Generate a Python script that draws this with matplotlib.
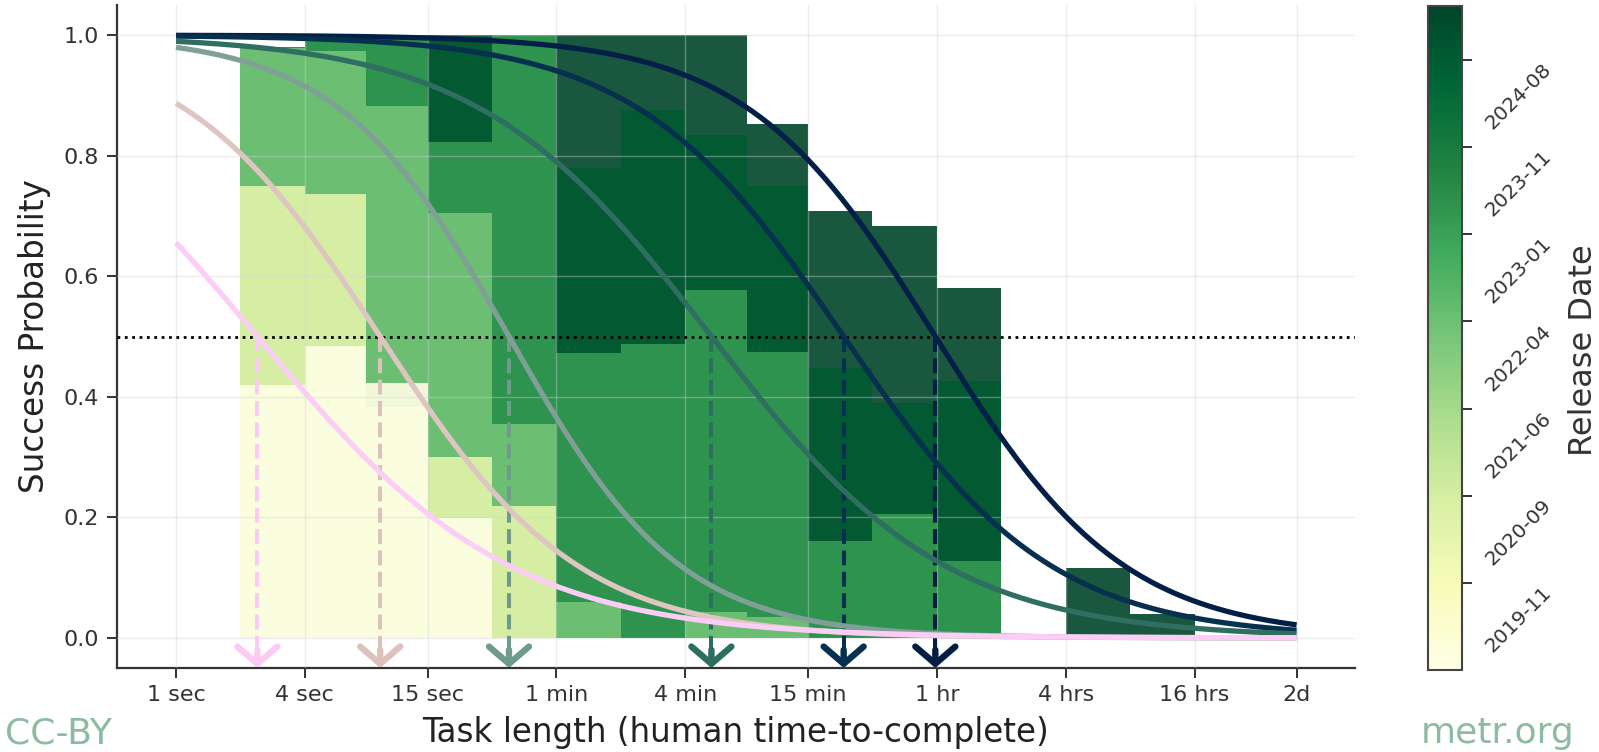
import numpy as np
import matplotlib
matplotlib.use("Agg")
import matplotlib.pyplot as plt
from matplotlib.colors import Normalize
from matplotlib.cm import ScalarMappable
from datetime import datetime, timezone

plt.rcParams['font.family'] = ['DejaVu Sans']

# ---------------- data ----------------
# task-length bin edges (minutes)
bin_edges_min = [2/60, 4/60, 7.746/60, 15/60, 30/60, 1, 2, 4, 7.746, 15, 30, 60, 120, 240, 480, 960]

model_names = ["GPT-2", "davinci-002", "gpt-3.5-turbo-instruct", "GPT-4", "o1-preview", "Claude 3.7 Sonnet"]
release_dates = ["2019-02-14", "2020-05-28", "2022-03-15", "2023-03-14", "2024-09-12", "2025-02-24"]

# success rate per bin (15 bins) for each model
succ_gpt2     = [0.42, 0.485, 0.423, 0.199, 0, 0, 0, 0, 0, 0, 0, 0, 0, 0, 0]
succ_davinci  = [0.75, 0.736, 0.383, 0.30, 0.219, 0, 0, 0, 0, 0, 0, 0, 0, 0, 0]
succ_gpt35    = [0.978, 0.973, 0.882, 0.705, 0.355, 0.06, 0, 0.043, 0.035, 0, 0, 0, 0, 0, 0]
succ_gpt4     = [0.98, 1.0, 1.0, 0.822, 1.0, 0.472, 0.487, 0.577, 0.474, 0.16, 0.206, 0.128, 0, 0, 0]
succ_o1p      = [0.98, 1.0, 1.0, 1.0, 1.0, 0.779, 0.876, 0.835, 0.75, 0.448, 0.39, 0.426, 0, 0, 0]
succ_claude37 = [0.98, 1.0, 1.0, 1.0, 1.0, 1.0, 1.0, 1.0, 0.852, 0.708, 0.684, 0.58, 0, 0.116, 0.04]

# logistic fit: 50% time horizon (minutes) and slope (per doubling)
horizon_min = [0.04, 0.15, 0.6, 5.3, 22, 59]
slope = [0.51, 0.65, 0.75, 0.55, 0.62, 0.68]

curve_colors = ["#fccdf6", "#dec5c1", "#7f9f97", "#2f6e61", "#07304f", "#021f47"]
arrow_colors = ["#fbcbf4", "#dcc1bc", "#6f9c8a", "#2c6e5f", "#06304f", "#031d43"]

xtick_vals = [1/60, 4/60, 15/60, 1, 4, 15, 60, 240, 960, 2880]
xtick_labels = ["1 sec", "4 sec", "15 sec", "1 min", "4 min", "15 min", "1 hr", "4 hrs", "16 hrs", "2d"]
ytick_vals = [0.0, 0.2, 0.4, 0.6, 0.8, 1.0]

cbar_ticks = [1.575e9, 1.600e9, 1.625e9, 1.650e9, 1.675e9, 1.700e9, 1.725e9]

curve_t_min = [1/60, 2880]

# ---------------- figure ----------------
W, H = 1599, 752
fig = plt.figure(figsize=(W/100, H/100), dpi=100)
ax = fig.add_axes([117/W, 1-668/H, (1355-117)/W, (668-5)/H])

def ts(s):
    return datetime.strptime(s, "%Y-%m-%d").replace(tzinfo=timezone.utc).timestamp()

rel_ts = [ts(d) for d in release_dates]
norm = Normalize(vmin=min(rel_ts), vmax=max(rel_ts))
cmap = plt.get_cmap("YlGn")

succ_all = [succ_gpt2, succ_davinci, succ_gpt35, succ_gpt4, succ_o1p, succ_claude37]
edges = np.array(bin_edges_min)
lefts = edges[:-1]
widths = edges[1:] - edges[:-1]

# newest drawn first so that older models sit on top
for k in range(len(model_names) - 1, -1, -1):
    ax.bar(lefts, succ_all[k], width=widths, align="edge",
           color=cmap(norm(rel_ts[k])), alpha=0.9, linewidth=0, zorder=1)

ax.set_xscale("log", base=2)
ax.set_xlim(0.00883, 5400)
ax.set_ylim(-0.05, 1.05)

ax.set_axisbelow(False)
ax.grid(True, color="#d0d0d8", alpha=0.4, linewidth=1.0)

ax.axhline(0.5, color="black", linestyle=":", linewidth=2.0, zorder=3)

tt = np.geomspace(curve_t_min[0], curve_t_min[1], 400)
for k in range(len(model_names) - 1, -1, -1):
    h = horizon_min[k]
    b = slope[k]
    p = 1.0 / (1.0 + np.exp(b * (np.log2(tt) - np.log2(h))))
    ax.plot(tt, p, color=curve_colors[k], linewidth=3.8, zorder=4 + (5 - k) * 0.01,
            solid_capstyle="butt")

for k in range(len(model_names)):
    h = horizon_min[k]
    ax.plot([h, h], [0.5, -0.03], color=arrow_colors[k], linestyle="--",
            linewidth=2.9, zorder=3.5)
    ax.annotate("", xy=(h, -0.05), xytext=(h, -0.02),
                arrowprops=dict(arrowstyle="->,head_length=0.62,head_width=0.72",
                                color=arrow_colors[k], lw=4.6, shrinkA=0, shrinkB=0,
                                mutation_scale=20),
                zorder=5)

ax.set_xticks(xtick_vals)
ax.set_xticklabels(xtick_labels)
ax.xaxis.set_minor_locator(matplotlib.ticker.NullLocator())
ax.set_yticks(ytick_vals)
ax.set_yticklabels([f"{v:.1f}" for v in ytick_vals])
ax.tick_params(axis="both", labelsize=16, color="#333333", labelcolor="#333333",
               length=7, width=1.4)
ax.tick_params(axis="y", pad=6)
ax.tick_params(axis="x", pad=5)

for s in ["top", "right"]:
    ax.spines[s].set_visible(False)
for s in ["left", "bottom"]:
    ax.spines[s].set_color("#333333")
    ax.spines[s].set_linewidth(1.6)

ax.set_xlabel("Task length (human time-to-complete)", fontsize=23.5, color="#222222")
ax.xaxis.set_label_coords(0.5, -0.072)
ax.set_ylabel("Success Probability", fontsize=23.5, color="#222222")
ax.yaxis.set_label_coords(-0.053, 0.5)

# colorbar
cax = fig.add_axes([1428/W, 1-670/H, 34/W, 664/H])
sm = ScalarMappable(norm=norm, cmap=cmap)
cb = fig.colorbar(sm, cax=cax)
cb.set_ticks(cbar_ticks)
cb.set_ticklabels([datetime.fromtimestamp(t, tz=timezone.utc).strftime("%Y-%m") for t in cbar_ticks])
cb.outline.set_edgecolor("#444444")
cb.outline.set_linewidth(1.5)
cax.tick_params(labelsize=14.5, length=7, width=1.4, color="#333333", labelcolor="#333333", pad=7)
for lab in cax.get_yticklabels():
    lab.set_rotation(45)
    lab.set_ha("left")
    lab.set_va("top")
fig.text(1584/W, 1-350/H, "Release Date", rotation=90, ha="center", va="center",
         fontsize=23, color="#333333")

fig.text(5/W, 1-743/H, "CC-BY", ha="left", va="baseline", fontsize=26, color="#8dbba1")
fig.text(1574/W, 1-743/H, "metr.org", ha="right", va="baseline", fontsize=26, color="#8dbba1")

fig.savefig("out.png", dpi=100)
